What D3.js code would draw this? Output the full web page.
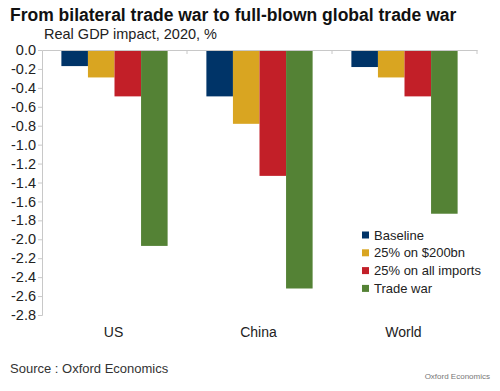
<!DOCTYPE html>
<html>
<head>
<meta charset="utf-8">
<script src="https://cdn.jsdelivr.net/npm/d3@7"></script>
<style>
  body { margin: 0; background: #fff; }
  text { font-family: "Liberation Sans", Arial, sans-serif; }
</style>
</head>
<body>
<svg id="chart" width="500" height="391"></svg>
<script>
// data
var regions = ["US", "China", "World"];
var scenarios = ["Baseline", "25% on $200bn", "25% on all imports", "Trade war"];
var baseline = [-0.17, -0.49, -0.18];
var on200bn = [-0.29, -0.78, -0.29];
var allImports = [-0.49, -1.33, -0.49];
var tradeWar = [-2.07, -2.52, -1.73];
var yTicks = [0, -0.2, -0.4, -0.6, -0.8, -1.0, -1.2, -1.4, -1.6, -1.8, -2.0, -2.2, -2.4, -2.6, -2.8];
var colors = ["#003468", "#d9a521", "#c21f28", "#548235"];

var series = [baseline, on200bn, allImports, tradeWar];

var svg = d3.select("#chart"),
    margin = {left: 42, right: 23, top: 50},
    plotW = 500 - margin.left - margin.right,
    y0 = 50, y1 = 315;

var x = d3.scaleBand().domain(regions).range([margin.left, margin.left + plotW]).paddingInner(0).paddingOuter(0);
// bars sit in the middle of each group with ~20px either side
var xs = d3.scaleBand().domain(scenarios).range([0, x.bandwidth()]).paddingOuter(0.73).paddingInner(0);
var y = d3.scaleLinear().domain([0, -2.8]).range([y0, y1]);

// title
svg.append("text").attr("x", 10).attr("y", 21)
  .style("font-size", "17.5px").style("font-weight", "bold").attr("fill", "#111")
  .text("From bilateral trade war to full-blown global trade war");
svg.append("text").attr("x", 44).attr("y", 39)
  .style("font-size", "14.5px").attr("fill", "#222")
  .text("Real GDP impact, 2020, %");

// bars
regions.forEach(function (r, i) {
  series.forEach(function (s, j) {
    svg.append("rect")
      .attr("x", x(r) + xs(scenarios[j]))
      .attr("y", y(0))
      .attr("width", xs.bandwidth())
      .attr("height", y(s[i]) - y(0))
      .attr("fill", colors[j]);
  });
});

// y axis
var yAxis = d3.axisLeft(y).tickValues(yTicks).tickSize(4).tickPadding(2);
var gy = svg.append("g").attr("transform", "translate(" + margin.left + ",0)").call(yAxis);
gy.select(".domain").attr("stroke", "#c8c8c8");
gy.selectAll(".tick line").attr("stroke", "#c8c8c8");
gy.selectAll(".tick text").style("font-size", "14.5px").attr("fill", "#222")
  .text(function (d) { return d3.format(".1f")(d).replace("−", "-"); });

// x axis at zero
var xAxis = d3.axisBottom(x).tickValues([]).tickSizeOuter(0);
var gx = svg.append("g").attr("transform", "translate(0," + y(0) + ")").call(xAxis);
gx.select(".domain").attr("stroke", "#c8c8c8");
[1, 2, 3].forEach(function (k) {
  var xx = margin.left + k * x.step();
  gx.append("line").attr("x1", xx).attr("x2", xx).attr("y1", 0).attr("y2", 4).attr("stroke", "#c8c8c8");
});

// category labels
svg.selectAll(".cat").data(regions).enter().append("text")
  .attr("x", function (d) { return x(d) + x.bandwidth() / 2 - 1; })
  .attr("y", 337)
  .attr("text-anchor", "middle")
  .style("font-size", "14px").attr("fill", "#222")
  .text(function (d) { return d; });

// legend
var leg = svg.append("g").attr("transform", "translate(362,235)");
scenarios.forEach(function (s, j) {
  leg.append("rect").attr("x", 0).attr("y", j * 17.8 - 3.5).attr("width", 7).attr("height", 7).attr("fill", colors[j]);
  leg.append("text").attr("x", 12).attr("y", j * 17.8 + 4.5)
    .style("font-size", "13px").attr("fill", "#222").text(s);
});

// source
svg.append("text").attr("x", 10).attr("y", 373)
  .style("font-size", "13px").attr("fill", "#333")
  .text("Source : Oxford Economics");
svg.append("text").attr("x", 490).attr("y", 379).attr("text-anchor", "end")
  .style("font-size", "8px").attr("fill", "#777")
  .text("Oxford Economics");
</script>
</body>
</html>
